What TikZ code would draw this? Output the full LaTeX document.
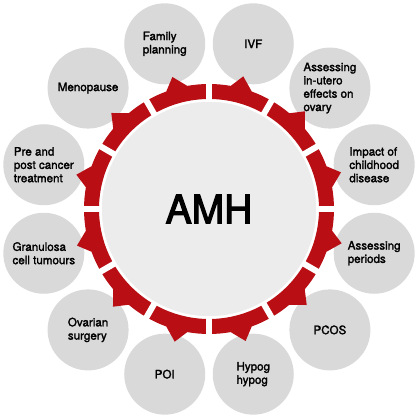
\documentclass[tikz,border=0pt]{standalone}
\usepackage{fontspec}
\setmainfont{TeX Gyre Heros}[FakeBold=2]
\newfontfamily\hubfont{TeX Gyre Heros}[FakeBold=3]
\usetikzlibrary{positioning}
\definecolor{amhred}{RGB}{184,14,20}
\definecolor{bubblegray}{RGB}{217,217,217}
\definecolor{hubgray}{RGB}{236,236,236}

\begin{document}
\begin{tikzpicture}[x=1pt, y=1pt,
    topic/.style={circle, fill=bubblegray, minimum size=81pt, inner sep=0pt, align=left, font=\fontsize{11.6}{13.3}\selectfont},
    hub/.style={circle, fill=hubgray, draw=white, line width=1.5pt, minimum size=216pt, font=\hubfont\fontsize{39}{39}\selectfont}]
    \useasboundingbox (-209,-210) rectangle (211,209);
    \node[topic] (ivf) at (75:171) {IVF};
    \node[topic] (utero) at (45:171) {Assessing\\in-utero\\effects on\\ovary};
    \node[topic] (child) at (15:171) {Impact of\\childhood\\disease};
    \node[topic] (periods) at (-15:171) {Assessing\\periods};
    \node[topic] (pcos) at (-45:171) {PCOS};
    \node[topic] (hypog) at (-75:171) {Hypog\\hypog};
    \node[topic] (poi) at (-105:171) {POI};
    \node[topic] (surgery) at (-135:171) {Ovarian\\surgery};
    \node[topic] (granulosa) at (-165:171) {Granulosa\\cell tumours};
    \node[topic] (cancer) at (165:171) {Pre and\\post cancer\\treatment};
    \node[topic] (meno) at (135:171) {Menopause};
    \node[topic] (family) at (105:171) {Family\\planning};
    % red ring, one barbed segment per topic
    \foreach \a in {0,30,...,330}
        \fill[amhred] (\a:110) arc[start angle=\a, end angle=\a+30, radius=110]
            -- (\a+30:125) arc[start angle=\a+30, end angle=\a+20, radius=125]
            -- (\a+15.5:137) -- (\a+10:125)
            arc[start angle=\a+10, end angle=\a, radius=125] -- cycle;
    \foreach \a in {0,30,...,330}
        \draw[white, line width=6pt] (\a:107) -- (\a:127);
    \node[hub] (amh) at (0,0) {AMH};
\end{tikzpicture}
\end{document}
